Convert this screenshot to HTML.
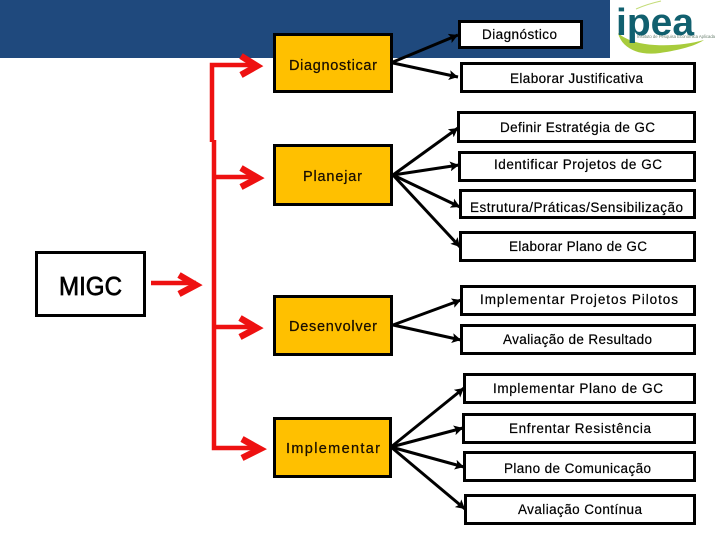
<!DOCTYPE html>
<html>
<head>
<meta charset="utf-8">
<style>
html,body{margin:0;padding:0;background:#fff;width:720px;height:540px;overflow:hidden}
svg{display:block}
text{font-family:"Liberation Sans",sans-serif;fill:#000}
.r{font-size:13.5px;stroke:#000;stroke-width:.2}
.o{font-size:14.5px;fill:#1a0f00;stroke:#1a0f00;stroke-width:.25}
</style>
</head>
<body>
<svg width="720" height="540" viewBox="0 0 720 540" xmlns="http://www.w3.org/2000/svg">
<rect x="0" y="0" width="610" height="58" fill="#1f497d"/>

<!-- logo -->
<path d="M618 33 C622 49 640 56 660 53 C680 50 695 46 704 40 C690 44 672 46 655 45 C638 44 626 40 618 33 Z" fill="#a8cc3c"/>
<path d="M636 9 C645 5 652 3 661 1" stroke="#c4dc78" stroke-width="1" fill="none"/>
<text x="616" y="35" textLength="78" lengthAdjust="spacingAndGlyphs" style="font-size:38px;font-weight:bold;fill:#11606f">ipea</text>
<text x="637" y="38" textLength="78" lengthAdjust="spacingAndGlyphs" style="font-size:4.5px;fill:#6b8070">Instituto de Pesquisa Econômica Aplicada</text>

<!-- red connectors -->
<g stroke="#ee1111" stroke-width="4.5" fill="none">
<path d="M212 142 V65 H256"/>
<path d="M214 140 V448 H258"/>
<path d="M216 177 H256"/>
<path d="M216 327 H256"/>
<path d="M151 283 H196"/>
</g>
<g fill="none" stroke="#ee1111" stroke-width="6.5">
<path d="M241 56 L257 66 L241 75"/>
<path d="M241 168 L258 178 L241 187"/>
<path d="M179 275 L196 285 L179 294"/>
<path d="M240 318 L257 328 L240 337"/>
<path d="M242 439 L260 449 L242 458"/>
</g>

<!-- black connectors -->
<defs>
<marker id="a" markerUnits="userSpaceOnUse" markerWidth="10" markerHeight="10" refX="9" refY="5" orient="auto">
<path d="M0 0 L9 5 L0 10 L2 5 Z" fill="#000"/>
</marker>
</defs>
<g stroke="#000" stroke-width="3" fill="none" marker-end="url(#a)">
<path d="M393 62 L458 35"/>
<path d="M393 63 L458 77"/>
<path d="M393 175 L458 128"/>
<path d="M393 175 L459 165"/>
<path d="M393 175 L460 207"/>
<path d="M393 175 L460 247"/>
<path d="M393 325 L461 300"/>
<path d="M393 325 L461 340"/>
<path d="M391 447 L464 388"/>
<path d="M391 447 L463 428"/>
<path d="M391 447 L464 467"/>
<path d="M391 447 L465 509"/>
</g>

<!-- MIGC -->
<rect x="36.5" y="252.5" width="108" height="63" fill="#fff" stroke="#000" stroke-width="3"/>
<text x="59" y="295" textLength="63" lengthAdjust="spacingAndGlyphs" style="font-size:26px;stroke:#000;stroke-width:.7">MIGC</text>

<!-- orange boxes -->
<g fill="#ffc000" stroke="#000" stroke-width="3">
<rect x="274.5" y="34.5" width="117" height="57"/>
<rect x="274.5" y="145.5" width="117" height="59"/>
<rect x="274.5" y="296.5" width="117" height="58"/>
<rect x="274.5" y="418.5" width="116" height="58"/>
</g>
<text class="o" x="289" y="70" textLength="88">Diagnosticar</text>
<text class="o" x="303" y="181" textLength="59">Planejar</text>
<text class="o" x="289" y="331" textLength="88">Desenvolver</text>
<text class="o" x="286" y="453" textLength="94">Implementar</text>

<!-- right boxes -->
<g fill="#fff" stroke="#000" stroke-width="3">
<rect x="459.5" y="21.5" width="122" height="26"/>
<rect x="461.5" y="63.5" width="233" height="28"/>
<rect x="458.5" y="112.5" width="236" height="29"/>
<rect x="459.5" y="152.5" width="235" height="28"/>
<rect x="460.5" y="190.5" width="234" height="27"/>
<rect x="460.5" y="232.5" width="234" height="28"/>
<rect x="461.5" y="286.5" width="233" height="28"/>
<rect x="461.5" y="325.5" width="233" height="28"/>
<rect x="464.5" y="374.5" width="230" height="28"/>
<rect x="463.5" y="414.5" width="231" height="28"/>
<rect x="464.5" y="452.5" width="230" height="28"/>
<rect x="465.5" y="495.5" width="229" height="28"/>
</g>
<text class="r" x="482" y="39" textLength="75">Diagnóstico</text>
<text class="r" x="510" y="83" textLength="133">Elaborar Justificativa</text>
<text class="r" x="500" y="132" textLength="155">Definir Estratégia de GC</text>
<text class="r" x="494" y="169" textLength="168">Identificar Projetos de GC</text>
<text class="r" x="470" y="212" textLength="213">Estrutura/Práticas/Sensibilização</text>
<text class="r" x="509" y="251" textLength="138">Elaborar Plano de GC</text>
<text class="r" x="480" y="304" textLength="198">Implementar  Projetos  Pilotos</text>
<text class="r" x="503" y="344" textLength="149">Avaliação de Resultado</text>
<text class="r" x="493" y="393" textLength="170">Implementar  Plano de GC</text>
<text class="r" x="509" y="433" textLength="142">Enfrentar  Resistência</text>
<text class="r" x="504" y="473" textLength="147">Plano de Comunicação</text>
<text class="r" x="518" y="514" textLength="124">Avaliação Contínua</text>
</svg>
</body>
</html>
